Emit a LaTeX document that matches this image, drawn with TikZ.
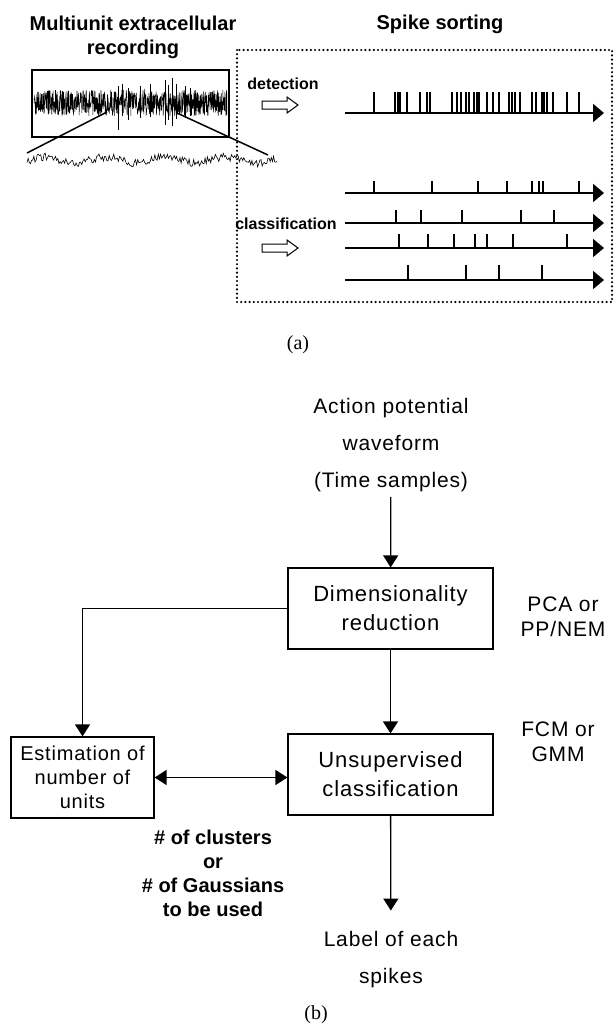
\documentclass[tikz,border=0pt]{standalone}
\usepackage{fontspec}
\setmainfont{Liberation Sans}
\newfontfamily\serifcap{Liberation Serif}
\newfontfamily\flowfont[LetterSpace=4]{Liberation Sans}
\usetikzlibrary{arrows.meta, positioning}

\begin{document}
\begin{tikzpicture}[
    x=1pt, y=-1pt,
    box/.style   ={draw, line width=1.2pt, minimum width=205pt, minimum height=81pt,
                   inner sep=0pt, align=center, font=\flowfont\fontsize{22}{29}\selectfont},
    txt/.style   ={align=center, font=\flowfont\fontsize{21}{37}\selectfont, inner sep=0pt},
    side/.style  ={align=center, font=\flowfont\fontsize{21}{25}\selectfont, inner sep=0pt},
    ttl/.style   ={align=center, font=\bfseries\fontsize{20}{24}\selectfont, inner sep=0pt},
    stage/.style ={font=\bfseries\fontsize{16}{19}\selectfont, anchor=base, inner sep=0pt},
    sub/.style   ={font=\serifcap\fontsize{20}{24}\selectfont, anchor=base, inner sep=0pt},
    flow/.style  ={line width=1.3pt, -{Triangle[length=12pt,width=15pt]}},
    train/.style ={line width=2pt, -{Triangle[length=11pt,width=18pt]}},
    spk/.style   ={line width=1.8pt},
    hollow/.style={draw, line width=1pt, line join=miter}
  ]
  \useasboundingbox (0,0) rectangle (614,1028);

  %% ---- (a) recording -----------------------------------------------
  \node[ttl] (rtitle) at (133,37) {Multiunit extracellular\\recording};
  \node[ttl, anchor=base] (stitle) at (440,29) {Spike sorting};

  \node[draw, line width=1.5pt, minimum width=197pt, minimum height=67pt, inner sep=0pt]
    (rec) at (130.5,103.5) {};
  \pgfmathsetseed{11}
  \draw[line width=0.5pt] plot[domain=34:227, samples=800] (\x,{103+13*rand});
  \foreach \x/\a/\b in {118/86/130, 122/84/116, 128/88/120, 140/86/118, 150/84/117,
                        165/80/125, 168/85/120, 172/78/126, 176/84/119, 185/86/118, 190/88/116}
    \draw[line width=0.8pt] (\x,\a) -- (\x,\b);

  % zoomed trace
  \draw[line width=0.6pt] plot[domain=27:277, samples=220] (\x,{160+4*rand+3*sin(6*\x)});
  \coordinate (za) at (107,112); \coordinate (wa) at (27,153);
  \coordinate (zb) at (177,113); \coordinate (wb) at (268,155);
  \draw[line width=1.5pt] (za) -- (wa);
  \draw[line width=1.5pt] (zb) -- (wb);

  %% ---- (a) spike sorting -------------------------------------------
  \draw[line width=2.4pt, line cap=round, dash pattern=on 0pt off 4.2pt] (237,50) rectangle (612,302);

  \node[stage] (det) at (283,89) {detection};
  \node[stage] (cla) at (286,229) {classification};
  \foreach \y in {105,248}
    \draw[hollow] (262,\y-4) -- (287,\y-4) -- (287,\y-8) -- (298,\y)
                  -- (287,\y+8) -- (287,\y+4) -- (262,\y+4) -- cycle;

  \coordinate (d0) at (345,113); \coordinate (d1) at (604,113);
  \draw[train] (d0) -- (d1);
  \foreach \x in {374,395,398,400,407,420,427,430,452,457,461,466,469,474,477,479,
                  487,493,499,509,512,515,520,532,536,542,544,547,553,567,579}
    \draw[spk] (\x,113) -- ++(0,-21);

  \coordinate (c1a) at (345,193); \coordinate (c1b) at (604,193);
  \coordinate (c2a) at (345,223); \coordinate (c2b) at (604,223);
  \coordinate (c3a) at (345,248); \coordinate (c3b) at (604,248);
  \coordinate (c4a) at (345,280); \coordinate (c4b) at (604,280);
  \draw[train] (c1a) -- (c1b);
  \draw[train] (c2a) -- (c2b);
  \draw[train] (c3a) -- (c3b);
  \draw[train] (c4a) -- (c4b);
  \foreach \x in {374,432,478,507,532,539,543,579} \draw[spk] (\x,193) -- ++(0,-12);
  \foreach \x in {396,421,462,521,554}             \draw[spk] (\x,223) -- ++(0,-13);
  \foreach \x in {399,428,454,475,487,513,567}     \draw[spk] (\x,248) -- ++(0,-14);
  \foreach \x in {408,466,499,542}                 \draw[spk] (\x,280) -- ++(0,-15);

  \node[sub] (capa) at (298,349) {(a)};

  %% ---- (b) flow chart ----------------------------------------------
  \node[txt] (src) at (391,445) {Action potential\\waveform\\(Time samples)};
  \node[box] (dim) at (390.5,608.5) {Dimensionality\\reduction};
  \node[box] (uns) at (390.5,774.5) {Unsupervised\\classification};
  \node[box, minimum width=143pt, font=\flowfont\fontsize{20}{24}\selectfont]
    (est) at (82.5,777.5) {Estimation of\\number of\\units};
  \node[side] (red) at (563,617) {PCA or\\PP/NEM};
  \node[side] (cls) at (558,742) {FCM or\\GMM};
  \node[ttl] (num) at (213,873) {\# of clusters\\or\\\# of Gaussians\\to be used};
  \node[txt] (lab) at (391,960) {Label of each\\spikes};
  \node[sub] (capb) at (316,1019) {(b)};

  \draw[flow, shorten <=5pt] (src) -- (dim);
  \draw[flow] (dim.west) -| (est.north);
  \draw[flow] (dim) -- (uns);
  \draw[line width=1.3pt, {Triangle[length=12pt,width=15pt]}-{Triangle[length=12pt,width=15pt]}]
    (est.east) -- (est.east -| uns.west);
  \draw[flow, shorten >=21pt] (uns) -- (lab);

\end{tikzpicture}
\end{document}
